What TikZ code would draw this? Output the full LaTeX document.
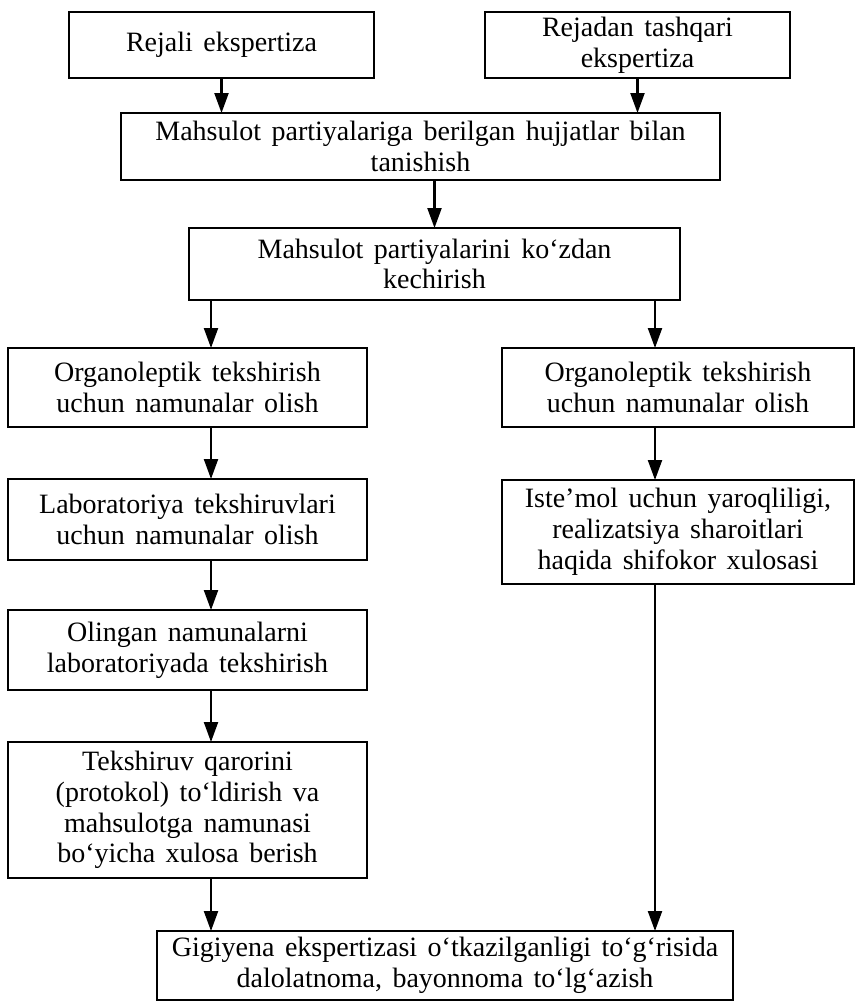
\documentclass[tikz,border=0pt]{standalone}
\usepackage{fontspec}
\setmainfont[WordSpace=1.5]{Liberation Serif}
\usetikzlibrary{arrows.meta}
\tikzstyle{block}=[draw, line width=1.3pt, inner sep=0, outer sep=0, align=center,
                   font=\fontsize{14}{15.4}\selectfont]
\tikzstyle{wideblock}[305]=[block, minimum width=#1*0.5pt]
\tikzstyle{tallblock}[66]=[minimum height=#1*0.5pt]
\tikzstyle{flow}=[line width=1.1pt, -{Triangle[length=10pt, width=7pt]}]
\tikzstyle{flowchart}=[x=0.5pt, y=-0.5pt,
                       % Page size of the scanned figure.
                       execute at begin picture={\useasboundingbox (0, 0) rectangle (856, 1002);}]

\begin{document}
\begin{tikzpicture}[flowchart]
        \node[wideblock=305, tallblock=66]  (plan)     at (221.5, 45)  {Rejali ekspertiza};
        \node[wideblock=305, tallblock=66]  (unplan)   at (637.5, 45)  {Rejadan tashqari\\ekspertiza};
        \node[wideblock=599, tallblock=67]  (docs)     at (420.5, 146.5) {Mahsulot partiyalariga berilgan hujjatlar bilan\\tanishish};
        \node[wideblock=491, tallblock=72]  (inspect)  at (434.5, 264) {Mahsulot partiyalarini ko‘zdan\\kechirish};
        \node[wideblock=359, tallblock=79]  (orgL)     at (187.5, 387.5) {Organoleptik tekshirish\\uchun namunalar olish};
        \node[wideblock=352, tallblock=79]  (orgR)     at (678, 387.5) {Organoleptik tekshirish\\uchun namunalar olish};
        \node[wideblock=359, tallblock=81]  (labS)     at (187.5, 519.5) {Laboratoriya tekshiruvlari\\uchun namunalar olish};
        \node[wideblock=352, tallblock=104] (doctor)   at (678, 532) {Iste’mol uchun yaroqliligi,\\realizatsiya sharoitlari\\haqida shifokor xulosasi};
        \node[wideblock=359, tallblock=80]  (labT)     at (187.5, 650) {Olingan namunalarni\\laboratoriyada tekshirish};
        \node[wideblock=359, tallblock=136] (protocol) at (187.5, 810) {Tekshiruv qarorini\\(protokol) to‘ldirish va\\mahsulotga namunasi\\bo‘yicha xulosa berish};
        \node[wideblock=576, tallblock=69]  (act)      at (445, 965.5) {Gigiyena ekspertizasi o‘tkazilganligi to‘g‘risida\\dalolatnoma, bayonnoma to‘lg‘azish};
        \coordinate (cl) at (211, 0);
        \coordinate (cr) at (655, 0);
        \draw[flow] (plan) -- (docs.north -| plan);
        \draw[flow] (unplan) -- (docs.north -| unplan);
        \draw[flow] (docs.south -| inspect) -- (inspect);
        \draw[flow] (inspect.south -| cl) -- (orgL.north -| cl);
        \draw[flow] (inspect.south -| cr) -- (orgR.north -| cr);
        \draw[flow] (orgL.south -| cl) -- (labS.north -| cl);
        \draw[flow] (labS.south -| cl) -- (labT.north -| cl);
        \draw[flow] (labT.south -| cl) -- (protocol.north -| cl);
        \draw[flow] (protocol.south -| cl) -- (act.north -| cl);
        \draw[flow] (orgR.south -| cr) -- (doctor.north -| cr);
        \draw[flow] (doctor.south -| cr) -- (act.north -| cr);
    \end{tikzpicture}
\end{document}
